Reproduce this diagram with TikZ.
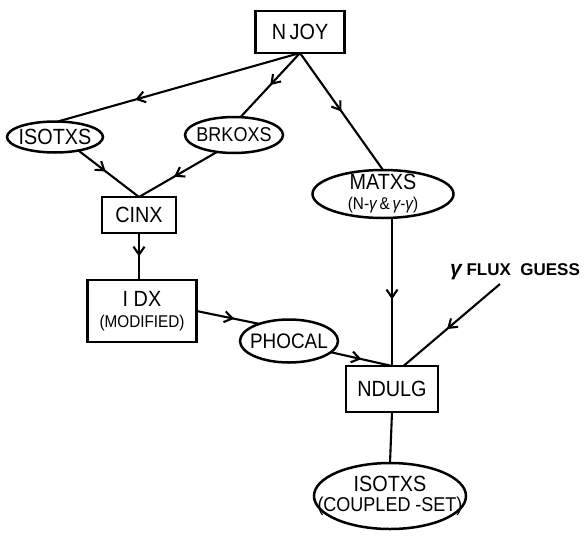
\documentclass[tikz,border=0pt]{standalone}
\usepackage{fontspec}
\setmainfont{Liberation Sans}[FakeStretch=0.9]
\newfontfamily\fluxfont{Liberation Sans}
\usetikzlibrary{shapes.geometric,decorations.markings,arrows.meta,calc}
\newcommand{\gam}{{\itshape γ}}
\begin{document}
\begin{tikzpicture}[x=1pt,y=-1pt,
  every node/.style={inner sep=0pt, outer sep=0pt},
  box/.style={draw, line width=2.5pt, rectangle},
  oval/.style={draw, line width=2.5pt, ellipse},
  lbl/.style={align=center, font=\fontsize{22}{24}\selectfont},
  link/.style={line width=2.1pt},
  midarrow/.style={postaction={decorate, decoration={markings, mark=at position #1 with {\arrow{Straight Barb[length=8pt,width=11pt,line width=2.1pt]}}}}},
  midarrow/.default=0.5]
\useasboundingbox (0,0) rectangle (585,535);
% shapes
\node[box, minimum width=89pt, minimum height=42pt] (njoy) at (300,32) {};
\node[lbl] (njoyt) at (njoy) {N\,JOY};
\node[oval, minimum width=96pt, minimum height=31pt] (isoA) at (55,137) {};
\node[lbl] (isoAt) at (isoA) {ISOTXS};
\node[oval, minimum width=98pt, minimum height=36pt] (brk) at (234,135) {};
\node[lbl, font=\fontsize{20}{22}\selectfont] (brkt) at (brk) {BRKOXS};
\node[box, minimum width=74pt, minimum height=36pt] (cinx) at (139,215) {};
\node[lbl] (cinxt) at (cinx) {CINX};
\node[box, minimum width=109pt, minimum height=62pt] (idx) at (142,311) {};
\node[lbl] (idxt) at (idx) {I DX\\[-3pt]{\fontsize{17}{19}\selectfont (MODIFIED)}};
\node[oval, minimum width=98pt, minimum height=43pt] (phocal) at (289,341) {};
\node[lbl, font=\fontsize{21}{23}\selectfont] (phocalt) at (phocal) {PHOCAL};
\node[oval, minimum width=141pt, minimum height=48pt] (matxs) at (383,194) {};
\node[lbl] (matxst) at (matxs) {MATXS\\[-4pt]{\fontsize{17}{19}\selectfont (N-\gam\,\&\,\gam-\gam)}};
\node[box, minimum width=92pt, minimum height=46pt] (ndulg) at (392,389) {};
\node[lbl] (ndulgt) at (ndulg) {NDULG};
\node[oval, minimum width=152pt, minimum height=66pt] (isoB) at (390,496) {};
\node[lbl] (isoBt) at (isoB) {ISOTXS\\[-4pt]{\fontsize{20}{22}\selectfont (COUPLED -SET)}};
\node[font=\fontsize{17}{19}\selectfont\fluxfont\bfseries] (flux) at (515,272) {{\fontsize{21}{21}\selectfont\itshape γ} FLUX\ \ GUESS};
\coordinate (fl) at (500,284);
% connectors
\draw[link, midarrow=0.68] (njoy.south) -- (isoA.80);
\draw[link, midarrow] (njoy.south) -- (brk.70);
\draw[link, midarrow] (njoy.south) -- (matxs.north);
\draw[link, midarrow=0.45] (isoA.-30) -- (cinx.north);
\draw[link, midarrow=0.55] (brk.-135) -- (cinx.north);
\draw[link, midarrow] (cinx.south) -- (cinx.south |- idx.north);
\draw[link, midarrow=0.6] (idx.east) -- (phocal.150);
\draw[link, midarrow] (phocal.-15) -- (ndulg.north);
\draw[link, midarrow=0.55] (matxs.south -| ndulg.north) -- (ndulg.north);
\draw[link, midarrow=0.55] (fl) -- ($(ndulg.north)!0.25!(ndulg.north east)$);
\draw[link] (ndulg.south) -- (isoB.north);
\end{tikzpicture}
\end{document}
